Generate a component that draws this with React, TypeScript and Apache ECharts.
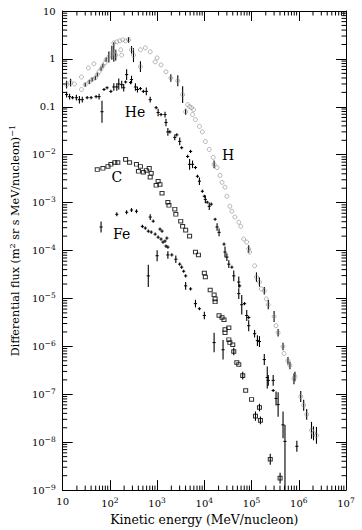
import React, { useEffect, useRef } from "react";
import * as echarts from "echarts";

// [energy (MeV/nucleon), flux, error factor (0 = none), optional lower factor]
const hData: number[][] = [
  [12.1, 0.29, 1.2], [14.7, 0.32, 1.2], [17.8, 0.3, 0], [25, 0.23, 0], [25, 0.42, 0],
  [30, 0.29, 1.1], [35, 0.65, 0], [36.5, 0.33, 1.1], [42, 0.37, 1.1], [46, 0.79, 0],
  [49, 0.4, 1.1], [54, 0.47, 1.1], [59, 0.54, 0], [65, 0.62, 1.1], [71, 0.72, 1.1],
  [79, 0.83, 0], [83, 0.96, 1.12], [95, 1.1, 1.3], [110, 1.34, 1.4], [121, 1.4, 1.6],
  [133, 1.2, 1.3], [121, 2.16, 0], [140, 2.27, 0], [162, 2.38, 0], [187, 2.5, 0],
  [215, 2.38, 0], [249, 2.5, 1.15], [170, 1.55, 0], [178, 1.2, 0], [287, 1.55, 1.2],
  [316, 1.2, 1.4], [443, 1.55, 0], [443, 0.69, 1.3], [562, 1.7, 0], [714, 1.41, 0],
  [908, 0.87, 0], [1000, 1.05, 0], [1210, 0.75, 0], [1540, 0.54, 0], [1950, 0.4, 1.2],
  [2740, 0.35, 1.3], [3470, 0.18, 1.5], [4430, 0.111, 0], [4870, 0.101, 0], [5360, 0.096, 0],
  [5900, 0.087, 0], [4020, 0.079, 1.15], [5620, 0.069, 0], [6490, 0.054, 0], [7870, 0.039, 0],
  [9090, 0.03, 0], [1.05e4, 0.0189, 0], [1.27e4, 0.0129, 0], [1.54e4, 8.8e-3, 0], [1.61e4, 6.3e-3, 1.2],
  [1.86e4, 5.4e-3, 0], [2.15e4, 3.7e-3, 0], [2.37e4, 2.65e-3, 0], [2.74e4, 2.1e-3, 0], [3.0e4, 1.36e-3, 0],
  [3.47e4, 8.4e-4, 0], [3.83e4, 6.6e-4, 0], [4.43e4, 5.0e-4, 0], [5.36e4, 3.9e-4, 0], [5.9e4, 3.2e-4, 0],
  [6.8e4, 1.74e-4, 0], [7.9e4, 1.5e-4, 0], [8.7e4, 1.08e-4, 1.2], [9.1e4, 9.3e-5, 0], [1.16e5, 4.8e-5, 0],
  [1.27e5, 2.8e-5, 1.25], [1.47e5, 2.2e-5, 1.25], [1.61e5, 1.58e-5, 0], [1.86e5, 1.45e-5, 1.2], [2.05e5, 9.8e-6, 0],
  [2.26e5, 7.4e-6, 1.25], [3.0e5, 4.2e-6, 1.3], [3.3e5, 2.7e-6, 0], [3.65e5, 1.93e-6, 1.2], [4.64e5, 9.9e-7, 1.2],
  [4.87e5, 7.1e-7, 0], [5.9e5, 5.0e-7, 1.2], [6.5e5, 4.0e-7, 1.2], [7.9e5, 2.1e-7, 1.3], [8.3e5, 2.35e-7, 1.25],
  [1.1e6, 9.0e-8, 1.3], [1.27e6, 5.9e-8, 1.3], [1.47e6, 3.8e-8, 1.3], [1.86e6, 1.77e-8, 1.5], [2.05e6, 1.53e-8, 1.4],
  [2.37e6, 1.39e-8, 1.5],
];

const heData: number[][] = [
  [12.1, 0.18, 1.15], [14, 0.163, 1.15], [16.2, 0.155, 0], [19.5, 0.155, 1.15], [22.6, 0.141, 1.2],
  [26, 0.141, 1.15], [33, 0.155, 0], [40, 0.155, 0], [51, 0.163, 0], [59, 0.163, 1.15],
  [68, 0.079, 1.7], [75, 0.23, 0], [87, 0.25, 0], [105, 0.21, 0], [121, 0.26, 1.2],
  [140, 0.26, 1.2], [154, 0.3, 1.3], [178, 0.29, 1.2], [196, 0.25, 1.2], [226, 0.47, 1.3],
  [215, 0.33, 0], [274, 0.32, 0], [287, 0.37, 1.2], [347, 0.26, 1.2], [383, 0.23, 1.15],
  [443, 0.24, 0], [511, 0.21, 0], [590, 0.21, 1.2], [714, 0.141, 1.15], [953, 0.096, 0],
  [1050, 0.076, 1.2], [1210, 0.069, 0], [1470, 0.069, 1.15], [1540, 0.047, 1.2], [1690, 0.03, 1.2],
  [1860, 0.03, 0], [2370, 0.023, 1.15], [2610, 0.026, 0], [3010, 0.019, 1.2], [3310, 0.014, 0],
  [4430, 9.2e-3, 0], [5110, 0.0117, 0], [4870, 6.3e-3, 1.3], [5620, 6.3e-3, 1.2], [6490, 5.4e-3, 0],
  [7150, 3.55e-3, 0], [7870, 2.8e-3, 1.2], [9090, 1.73e-3, 0], [1e4, 1.36e-3, 0], [1.05e4, 1.17e-3, 1.2],
  [1.15e4, 1.02e-3, 0], [1.27e4, 8.4e-4, 1.2], [1.4e4, 9.3e-4, 0], [1.69e4, 4.5e-4, 0], [1.86e4, 3.1e-4, 1.2],
  [2.05e4, 2.4e-4, 1.2], [2.61e4, 1.36e-4, 0], [2.74e4, 9.3e-5, 1.3], [3.0e4, 7.3e-5, 1.2], [3.3e4, 5.2e-5, 1.2],
  [3.83e4, 4.5e-5, 0], [4.2e4, 2.96e-5, 1.3], [5.36e4, 2.2e-5, 1.3], [5.6e4, 1.83e-5, 0], [5.36e4, 1.26e-5, 1.3],
  [6.2e4, 7.4e-6, 1.6], [7.1e4, 7.8e-6, 0], [7.9e4, 4.4e-6, 1.3], [8.7e4, 4.0e-6, 0], [8.7e4, 2.7e-6, 1.3],
  [1.16e5, 1.84e-6, 1.2], [1.33e5, 1.32e-6, 1.3], [1.47e5, 1.26e-6, 1.3], [1.86e5, 5.3e-7, 1.3], [2.15e5, 2.24e-7, 1.7],
  [2.26e5, 1.95e-7, 1.3], [2.87e5, 1.95e-7, 1.3], [2.87e5, 1.2e-7, 0], [3.3e5, 8.2e-8, 1.4], [3.65e5, 6.1e-8, 1.8],
  [4.64e5, 2.3e-8, 1.9], [5.1e5, 1.04e-8, 2.2, 20], [9.1e5, 8.2e-9, 1.3],
];

const cData: number[][] = [
  [54, 4.9e-3, 0], [71, 5.2e-3, 0], [91, 5.7e-3, 0], [105, 6.3e-3, 0], [127, 6.9e-3, 0],
  [147, 6.9e-3, 0], [215, 8.0e-3, 0], [261, 6.9e-3, 0], [365, 6.3e-3, 0], [443, 5.7e-3, 0],
  [402, 4.5e-3, 0], [511, 4.3e-3, 0], [590, 4.7e-3, 0], [681, 5.2e-3, 0], [750, 4.1e-3, 0],
  [714, 3.4e-3, 0], [1050, 2.8e-3, 0], [1150, 2.4e-3, 0], [953, 2.3e-3, 0], [1270, 1.57e-3, 0],
  [1690, 1.02e-3, 0], [1780, 8.8e-4, 0], [2370, 7.3e-4, 0], [2490, 5.7e-4, 0], [3160, 4.1e-4, 0],
  [3470, 3.2e-4, 0], [4020, 2.67e-4, 0], [4870, 2.0e-4, 0], [6490, 9.3e-5, 0], [7500, 8.1e-5, 0],
  [1e4, 3.4e-5, 0], [1.05e4, 2.8e-5, 0], [1.33e4, 1.5e-5, 0], [1.61e4, 1.19e-5, 0], [1.69e4, 9.8e-6, 0],
  [1.69e4, 8.5e-6, 0], [2.05e4, 4.4e-6, 0], [2.37e4, 4.0e-6, 0], [2.61e4, 3.6e-6, 0], [2.74e4, 2.24e-6, 0],
  [3.3e4, 2.45e-6, 0], [2.74e4, 1.93e-6, 0], [3.3e4, 1.38e-6, 0], [3.47e4, 1.2e-6, 0], [4.0e4, 1.08e-6, 0],
  [4.2e4, 7.8e-7, 1.2], [4.87e4, 4.6e-7, 0], [5.36e4, 4.2e-7, 0], [6.5e4, 2.45e-7, 1.2], [7.5e4, 1.2e-7, 0],
  [1e5, 7.8e-8, 0], [1.47e5, 5.3e-8, 1.2], [1.21e5, 3.5e-8, 1.25], [1.54e5, 2.85e-8, 1.2], [2.49e5, 4.4e-9, 1.3],
  [4.02e5, 1.78e-9, 1.3],
];

const feData: number[][] = [
  [65, 3.1e-4, 1.3], [140, 5.7e-4, 1.1], [226, 6.3e-4, 1.1], [287, 7.0e-4, 1.1], [365, 6.6e-4, 1.1],
  [487, 3.2e-4, 0], [562, 2.95e-4, 0], [650, 2.54e-4, 0], [714, 5.0e-4, 1.15], [826, 4.1e-4, 0],
  [750, 2.43e-4, 0], [908, 2.2e-4, 0], [1150, 2.8e-4, 0], [1270, 2.54e-4, 0], [1050, 1.9e-4, 0],
  [1210, 1.74e-4, 0], [1470, 1.58e-4, 0], [1610, 1.82e-4, 0], [1330, 1.5e-4, 0], [1540, 1.24e-4, 0],
  [1690, 1.18e-4, 0], [1000, 7.8e-5, 1.3], [1690, 8.1e-5, 1.2], [2050, 8.1e-5, 0], [2490, 6.6e-5, 1.2],
  [3010, 5.2e-5, 0], [3310, 4.5e-5, 0], [3650, 3.7e-5, 0], [650, 2.96e-5, 1.7], [4020, 2.96e-5, 0],
  [4020, 1.83e-5, 1.2], [5110, 1.58e-5, 0], [6490, 7.8e-6, 1.2], [7870, 6.1e-6, 0], [1e4, 4.4e-6, 1.2],
  [1.61e4, 1.2e-6, 1.6], [2.49e4, 8.5e-7, 1.6],
];

const speciesLabels = [
  { name: "He", energy: 340, flux: 0.079 },
  { name: "H", energy: 3.2e4, flux: 9.8e-3 },
  { name: "C", energy: 140, flux: 3.5e-3 },
  { name: "Fe", energy: 178, flux: 2.2e-4 },
];

const xTickLabels = ["10", "10{sup|2}", "10{sup|3}", "10{sup|4}", "10{sup|5}", "10{sup|6}", "10{sup|7}"];
const yTickLabels = [
  "10{sup|−9}", "10{sup|−8}", "10{sup|−7}", "10{sup|−6}", "10{sup|−5}", "10{sup|−4}",
  "10{sup|−3}", "10{sup|−2}", "0.1", "1", "10",
];
const xTitle = "Kinetic energy (MeV/nucleon)";
const yTitle = "Differential flux (m{sup|2} sr s MeV/nucleon){sup|−1}";

const FONT = "DejaVu Serif";

function errRows(data: number[][]) {
  return data
    .filter((d) => d[2])
    .map((d) => [d[0], d[1], d[1] / (d[3] || d[2]), d[1] * d[2]]);
}

function crossRows(data: number[][]) {
  return data.map((d) => [d[0], d[1], d[2] ? d[1] / (d[3] || d[2]) : d[1], d[2] ? d[1] * d[2] : d[1]]);
}

export default function App() {
  const ref = useRef<HTMLDivElement>(null);
  useEffect(() => {
    if (!ref.current) return;
    const chart = echarts.init(ref.current, undefined, { renderer: "svg" });

    const supRich = {
      sup: { fontSize: 7.5, fontFamily: FONT, color: "#000", verticalAlign: "bottom", padding: [0, 0, 6, 0] },
    };
    const supRichTitle = {
      sup: { fontSize: 8, fontFamily: FONT, color: "#000", verticalAlign: "bottom", padding: [0, 0, 7, 0] },
    };

    const minorX: number[][] = [];
    for (let e = 1; e < 7; e++) for (let k = 2; k < 10; k++) minorX.push([k * Math.pow(10, e), 1]);
    const minorY: number[][] = [];
    for (let e = -9; e < 1; e++) for (let k = 2; k < 10; k++) minorY.push([100, k * Math.pow(10, e)]);

    const axisCommon = {
      type: "log",
      logBase: 10,
      axisLine: { show: true, lineStyle: { color: "#000", width: 1 } },
      axisTick: { show: true, inside: true, length: 10, lineStyle: { color: "#000", width: 1 } },
      splitLine: { show: false },
    };

    const xAxisBase = { ...axisCommon, min: 10, max: 1e7, splitNumber: 6 };
    const yAxisBase = { ...axisCommon, min: 1e-9, max: 10, splitNumber: 10 };

    const crossSeries = (data: number[][], color: string) => ({
      type: "custom",
      data: crossRows(data),
      encode: { x: 0, y: 1 },
      clip: true,
      silent: true,
      renderItem: (params: any, api: any) => {
        const c = api.coord([api.value(0), api.value(1)]);
        const lo = api.coord([api.value(0), api.value(2)]);
        const hi = api.coord([api.value(0), api.value(3)]);
        const y1 = Math.min(hi[1], c[1] - 1.6);
        const y2 = Math.max(lo[1], c[1] + 1.6);
        return {
          type: "group",
          children: [
            { type: "line", shape: { x1: c[0] - 1.6, y1: c[1], x2: c[0] + 1.6, y2: c[1] }, style: { stroke: color, lineWidth: 1 } },
            { type: "line", shape: { x1: c[0], y1, x2: c[0], y2 }, style: { stroke: color, lineWidth: 1.1 } },
          ],
        };
      },
    });

    const barSeries = (data: number[][], color: string) => ({
      type: "custom",
      data: errRows(data),
      encode: { x: 0, y: 1 },
      clip: true,
      silent: true,
      renderItem: (params: any, api: any) => {
        const lo = api.coord([api.value(0), api.value(2)]);
        const hi = api.coord([api.value(0), api.value(3)]);
        return { type: "line", shape: { x1: lo[0], y1: lo[1], x2: hi[0], y2: hi[1] }, style: { stroke: color, lineWidth: 1.1 } };
      },
    });

    const option: any = {
      animation: false,
      backgroundColor: "#fff",
      grid: { left: 58, right: 16, top: 11, bottom: 38, containLabel: false },
      xAxis: [
        {
          ...xAxisBase,
          position: "bottom",
          name: xTitle,
          nameLocation: "middle",
          nameGap: 19,
          nameTextStyle: { fontFamily: FONT, fontSize: 12.4, color: "#000" },
          axisLabel: {
            show: true,
            margin: 6,
            fontFamily: FONT,
            fontSize: 10,
            color: "#000",
            formatter: (v: number) => xTickLabels[Math.round(Math.log10(v)) - 1] ?? "",
            rich: supRich,
          },
        },
        { ...xAxisBase, position: "top", axisLabel: { show: false } },
      ],
      yAxis: [
        {
          ...yAxisBase,
          position: "left",
          name: yTitle,
          nameLocation: "middle",
          nameRotate: 90,
          nameGap: 34,
          nameTextStyle: { fontFamily: FONT, fontSize: 11.2, color: "#000", rich: supRichTitle, padding: [0, 0, 0, 20] },
          axisLabel: {
            show: true,
            margin: 7,
            fontFamily: FONT,
            fontSize: 10,
            color: "#000",
            formatter: (v: number) => yTickLabels[Math.round(Math.log10(v)) + 9] ?? "",
            rich: supRich,
          },
        },
        { ...yAxisBase, position: "right", axisLabel: { show: false } },
      ],
      series: [
        {
          type: "custom",
          data: minorX,
          encode: { x: 0, y: 1 },
          silent: true,
          renderItem: (params: any, api: any) => {
            const cs = params.coordSys;
            const p = api.coord([api.value(0), api.value(1)]);
            return {
              type: "group",
              children: [
                { type: "line", shape: { x1: p[0], y1: cs.y + cs.height, x2: p[0], y2: cs.y + cs.height - 4.5 }, style: { stroke: "#000", lineWidth: 1 } },
                { type: "line", shape: { x1: p[0], y1: cs.y, x2: p[0], y2: cs.y + 4.5 }, style: { stroke: "#000", lineWidth: 1 } },
              ],
            };
          },
        },
        {
          type: "custom",
          data: minorY,
          encode: { x: 0, y: 1 },
          silent: true,
          renderItem: (params: any, api: any) => {
            const cs = params.coordSys;
            const p = api.coord([api.value(0), api.value(1)]);
            return {
              type: "group",
              children: [
                { type: "line", shape: { x1: cs.x, y1: p[1], x2: cs.x + 4.5, y2: p[1] }, style: { stroke: "#000", lineWidth: 1 } },
                { type: "line", shape: { x1: cs.x + cs.width, y1: p[1], x2: cs.x + cs.width - 4.5, y2: p[1] }, style: { stroke: "#000", lineWidth: 1 } },
              ],
            };
          },
        },
        {
          name: "H",
          type: "scatter",
          data: hData.map((d) => [d[0], d[1]]),
          symbol: "circle",
          symbolSize: 4,
          itemStyle: { color: "rgba(0,0,0,0)", borderColor: "#8c8c8c", borderWidth: 0.8 },
          silent: true,
        },
        barSeries(hData, "#000"),
        crossSeries(heData, "#000"),
        {
          name: "C",
          type: "scatter",
          data: cData.map((d) => [d[0], d[1]]),
          symbol: "rect",
          symbolSize: [4, 3.6],
          itemStyle: { color: "rgba(0,0,0,0)", borderColor: "#000", borderWidth: 1 },
          silent: true,
        },
        barSeries(cData, "#000"),
        crossSeries(feData, "#000"),
        {
          type: "custom",
          data: speciesLabels.map((l) => [l.energy, l.flux]),
          encode: { x: 0, y: 1 },
          silent: true,
          renderItem: (params: any, api: any) => {
            const p = api.coord([api.value(0), api.value(1)]);
            return {
              type: "text",
              x: p[0],
              y: p[1],
              style: {
                text: speciesLabels[params.dataIndex].name,
                fontFamily: FONT,
                fontSize: 14,
                fill: "#000",
                align: "center",
                verticalAlign: "middle",
              },
            };
          },
        },
      ],
    };
    chart.setOption(option);
    return () => chart.dispose();
  }, []);

  return <div ref={ref} style={{ position: "absolute", left: 0, top: 0, width: 362, height: 530, background: "#fff" }} />;
}
